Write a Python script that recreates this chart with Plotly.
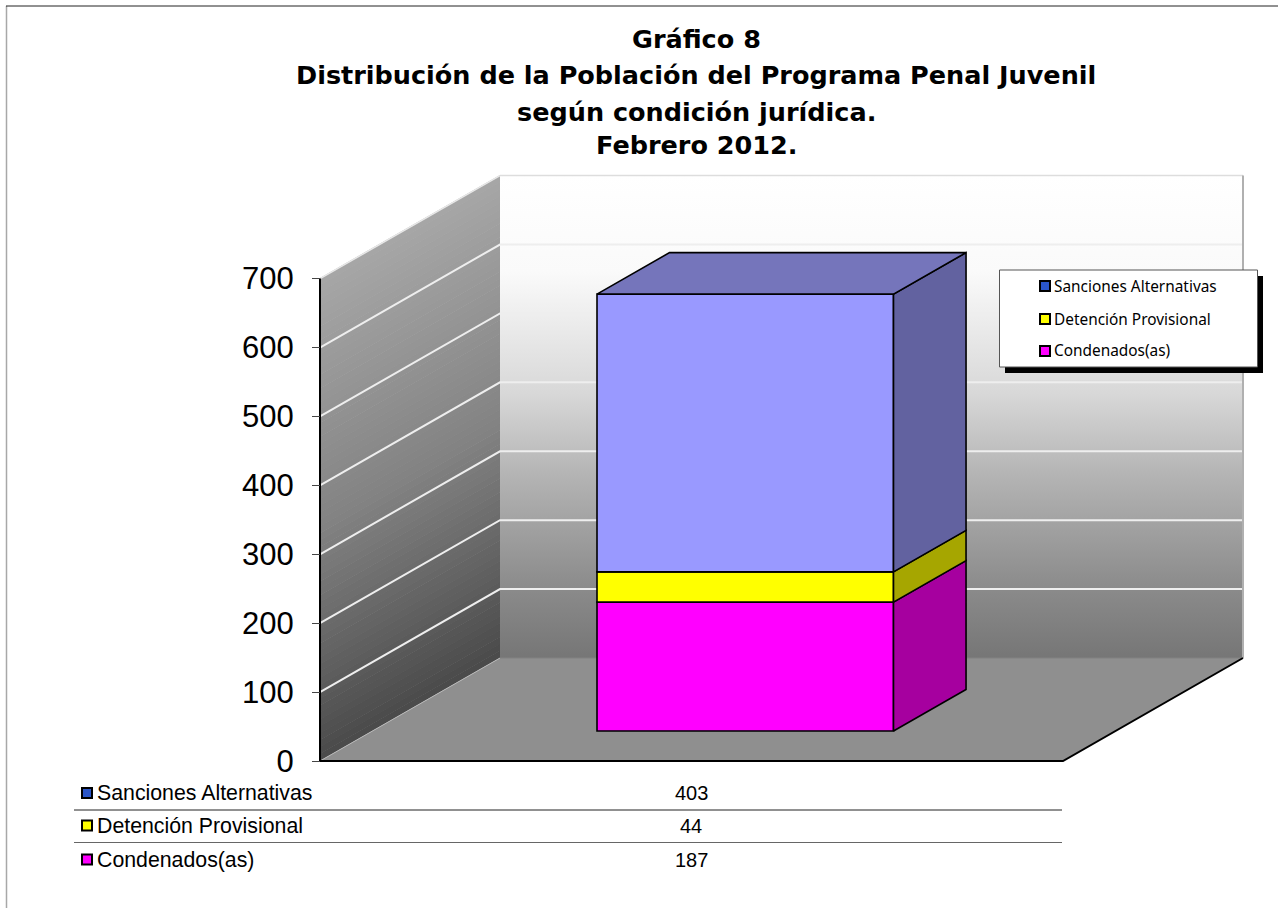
import plotly.graph_objects as go

# ---- data ----
series_names = ["Condenados(as)", "Detención Provisional", "Sanciones Alternativas"]
series_values = [187, 44, 403]
front_colors = ["#ff00ff", "#ffff00", "#9999ff"]
side_colors = ["#a6009f", "#a6a600", "#6262a0"]
marker_colors = ["#ff00ff", "#ffff00", "#2a55c8"]
top_color = "#7575bb"
y_ticks = [0, 100, 200, 300, 400, 500, 600, 700]
title_lines = ["Gráfico 8", "Distribución de la Población del Programa Penal Juvenil",
               "según condición jurídica.", "Febrero 2012."]

# ---- geometry of the oblique projection (px) ----
W, H = 1278, 908
Y0, PX_PER_UNIT = 761, 482.4 / 700
X_L, X_R = 320, 1063
DX, DY = 180, 103            # full depth of the floor
Y_MAX = 700
BAR_L, BAR_R = 597, 893.5
D_FRONT, D_BACK = 0.291, 0.694


def p2v(y):
    return (Y0 - y) / PX_PER_UNIT


y_range = [p2v(H), p2v(0)]


def proj(x, v, d):
    """x in px on the front plane, v value, d depth fraction -> axis coordinates."""
    return x + DX * d, v + DY * d / PX_PER_UNIT


def poly(pts):
    xs, ys = zip(*pts)
    return list(xs) + [xs[0]], list(ys) + [ys[0]]


def lerp_gray(stops, f):
    for (a, ca), (b, cb) in zip(stops, stops[1:]):
        if a <= f <= b:
            g = round(ca + (cb - ca) * (f - a) / (b - a))
            return f"rgb({g},{g},{g})"
    return f"rgb({stops[-1][1]},{stops[-1][1]},{stops[-1][1]})"


fig = go.Figure()


def add_poly(pts, fill=None, line=None, width=0, closed=True, xa="x", ya="y", **kw):
    xs, ys = poly(pts) if closed else zip(*pts)
    fig.add_trace(go.Scatter(
        x=list(xs), y=list(ys), mode="lines", xaxis=xa, yaxis=ya,
        fill="toself" if fill or "fillgradient" in kw else None,
        fillcolor=fill, line=dict(color=line or "rgba(0,0,0,0)", width=width),
        hoverinfo="skip", showlegend=False, **kw))


# back wall
add_poly([proj(X_L, 0, 1), proj(X_R, 0, 1), proj(X_R, Y_MAX, 1), proj(X_L, Y_MAX, 1)],
         fillgradient=dict(type="vertical", colorscale=[
             [0, "#767676"], [0.14, "#8a8a8a"], [0.38, "#b4b4b4"], [0.55, "#d8d8d8"],
             [0.80, "#fafafa"], [1, "#ffffff"]]))

# left wall, parallel strips
LEFT_STOPS = [(0, 0xa6), (0.5, 0x84), (1, 0x4a)]
N = 70
for i in range(N):
    v0, v1 = Y_MAX * i / N, Y_MAX * (i + 1) / N
    c = lerp_gray(LEFT_STOPS, 1 - (i + 0.5) / N)
    add_poly([proj(X_L, v0, 0), proj(X_L, v0, 1), proj(X_L, v1 + 1, 1), proj(X_L, v1 + 1, 0)], fill=c)

# floor
add_poly([proj(X_L, 0, 0), proj(X_R, 0, 0), proj(X_R, 0, 1), proj(X_L, 0, 1)], fill="#8f8f8f")

# gridlines
for t in y_ticks[1:-1]:
    add_poly([proj(X_L, t, 0), proj(X_L, t, 1), proj(X_R, t, 1)], line="#eeeeee", width=2, closed=False)
add_poly([proj(X_L, Y_MAX, 0), proj(X_L, Y_MAX, 1)], line="#e8e8e8", width=1.5, closed=False)
add_poly([proj(X_L, Y_MAX, 1), proj(X_R, Y_MAX, 1)], line="#dddddd", width=1.5, closed=False)
add_poly([proj(X_R, Y_MAX, 1), proj(X_R, 0, 1)], line="#b0b0b0", width=2, closed=False)
add_poly([proj(X_L, 0, 0), proj(X_L, 0, 1)], line="#b8b8b8", width=1, closed=False)
add_poly([proj(X_L, 0, 1), proj(X_R, 0, 1)], line="#828282", width=1, closed=False)

# axis frame
add_poly([proj(X_L, Y_MAX, 0), proj(X_L, 0, 0), proj(X_R, 0, 0), proj(X_R, 0, 1)],
         line="#000000", width=2, closed=False)

# stacked bar: front faces as bars, side and top faces projected from the same values
front_shift = DY * D_FRONT / PX_PER_UNIT
base = 0
for name, val, fc, sc in zip(series_names, series_values, front_colors, side_colors):
    fig.add_trace(go.Bar(
        x=[(BAR_L + BAR_R) / 2], y=[val], base=[base + front_shift], width=[BAR_R - BAR_L],
        xaxis="x2", yaxis="y2", name=name, marker=dict(color=fc, line=dict(color="#000000", width=1.6)),
        hovertemplate=f"{name}: {val}<extra></extra>", showlegend=False))
    X = BAR_R - DX * D_FRONT
    add_poly([proj(X, base, D_FRONT), proj(X, base + val, D_FRONT),
              proj(X, base + val, D_BACK), proj(X, base, D_BACK)],
             fill=sc, line="#000000", width=1.6, xa="x2", ya="y2")
    base += val
XL, XR = BAR_L - DX * D_FRONT, BAR_R - DX * D_FRONT
add_poly([proj(XL, base, D_FRONT), proj(XR, base, D_FRONT), proj(XR, base, D_BACK), proj(XL, base, D_BACK)],
         fill=top_color, line="#000000", width=1.6, xa="x2", ya="y2")

# legend box with shadow (traces, so that the keys can sit on top)
add_poly([(1005, p2v(276)), (1263, p2v(276)), (1263, p2v(373)), (1005, p2v(373))], fill="#000000", xa="x2", ya="y2")
add_poly([(999.5, p2v(270)), (1257.5, p2v(270)), (1257.5, p2v(367)), (999.5, p2v(367))],
         fill="#ffffff", line="#555555", width=1, xa="x2", ya="y2")

# ---- helpers in page pixels for data table and title ----
px = lambda x: x / W
py = lambda y: 1 - y / H
shapes = [
    dict(type="line", xref="paper", yref="paper", x0=px(6.5), x1=px(6.5), y0=py(6), y1=py(H), line=dict(color="#a8a8a8", width=1.5)),
    dict(type="line", xref="paper", yref="paper", x0=px(6), x1=px(W), y0=py(6), y1=py(6), line=dict(color="#222222", width=1)),
]
for yy, col in [(810, "#222222"), (842.5, "#666666")]:
    shapes.append(dict(type="line", xref="paper", yref="paper", x0=px(74), x1=px(1062), y0=py(yy), y1=py(yy), line=dict(color=col, width=1)))

annots = []
for txt, yy in zip(title_lines, [39, 75, 112, 145]):
    annots.append(dict(text=f"<b>{txt}</b>", x=px(696), y=py(yy), xref="paper", yref="paper", showarrow=False,
                       xanchor="center", yanchor="middle", font=dict(family="DejaVu Sans", size=25.5, color="#000000")))

rows = list(zip(series_names, series_values, marker_colors))[::-1]
table_y = [793, 825.5, 859.5]
legend_y = [286, 319, 351]
mk_x, mk_y, mk_c = [], [], []
for (name, val, col), ty, ly in zip(rows, table_y, legend_y):
    annots.append(dict(text=name, x=px(95), y=py(ty), xref="paper", yref="paper", showarrow=False, xanchor="left",
                       yanchor="middle", font=dict(family="Liberation Sans", size=21.3, color="#000000")))
    annots.append(dict(text=str(val), x=px(691), y=py(ty), xref="paper", yref="paper", showarrow=False, xanchor="center",
                       yanchor="middle", font=dict(family="Liberation Sans", size=20, color="#000000")))
    annots.append(dict(text=name, x=px(1052), y=py(ly), xref="paper", yref="paper", showarrow=False, xanchor="left",
                       yanchor="middle", font=dict(family="Noto Sans", size=15.4, color="#000000")))
    for mx, my in [(87, ty), (1045, ly)]:
        mk_x.append(mx)
        mk_y.append(p2v(my))
        mk_c.append(col)

fig.update_layout(
    width=W, height=H, autosize=False, margin=dict(l=0, r=0, t=0, b=0),
    paper_bgcolor="#ffffff", plot_bgcolor="rgba(0,0,0,0)", showlegend=False, barmode="overlay",
    shapes=shapes, annotations=annots,
    xaxis=dict(range=[0, W], visible=False, domain=[0, 1]),
    yaxis=dict(range=y_range, domain=[0, 1], anchor="free", position=X_L / W, tickmode="array",
               tickvals=y_ticks, ticks="outside", ticklen=8, tickcolor="#444444", tickwidth=1,
               ticklabelstandoff=12, showgrid=False, zeroline=False, showline=False,
               tickfont=dict(family="Liberation Sans", size=31, color="#000000")),
    xaxis2=dict(range=[0, W], visible=False, overlaying="x", domain=[0, 1]),
    yaxis2=dict(range=y_range, visible=False, overlaying="y", domain=[0, 1]),
)

# legend / table keys
fig.add_trace(go.Scatter(x=mk_x, y=mk_y, mode="markers", xaxis="x2", yaxis="y2", hoverinfo="skip", showlegend=False,
                         marker=dict(symbol="square", size=10, color=mk_c, line=dict(color="#000000", width=2))))

fig.write_html("out.html", config={"displayModeBar": False},
               post_script="document.body.style.margin='0';document.body.style.overflow='hidden';")
